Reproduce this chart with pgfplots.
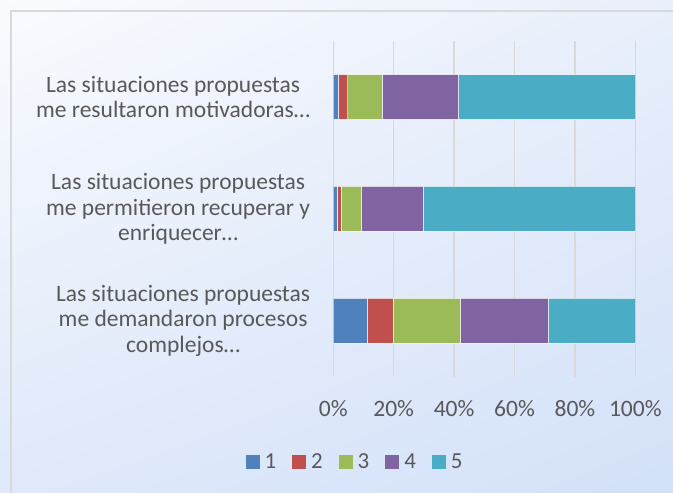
\documentclass[border=0pt]{standalone}
\usepackage{pgfplots}
\pgfplotsset{compat=1.18}
\usetikzlibrary{shadings}
\usepackage{fontspec}
\setmainfont{Carlito}
\definecolor{c1}{HTML}{4F81BD}
\definecolor{c2}{HTML}{C0504D}
\definecolor{c3}{HTML}{9BBB59}
\definecolor{c4}{HTML}{8064A2}
\definecolor{c5}{HTML}{4BACC6}
\definecolor{txt}{HTML}{595959}
\definecolor{gridc}{HTML}{D9D9D9}
\definecolor{bgTL}{HTML}{F9FBFE}
\definecolor{bgTR}{HTML}{E9EFFB}
\definecolor{bgBL}{HTML}{DFE9FA}
\definecolor{bgBR}{HTML}{D3E1F9}
\begin{document}
\begin{tikzpicture}
\useasboundingbox (0bp,0bp) rectangle (673bp,493bp);
\shade[upper left=bgTL, upper right=bgTR, lower left=bgBL, lower right=bgBR] (0bp,0bp) rectangle (673bp,493bp);
\draw[gridc, line width=1.5bp] (11bp,-10bp) rectangle (690bp,482bp);
\begin{axis}[
  at={(333.3bp,116.3bp)}, anchor=south west,
  scale only axis, width=302bp, height=335.7bp,
  xbar stacked, bar width=0.4,
  xmin=0, xmax=100, ymin=-0.5, ymax=2.5,
  xtick={0,20,40,60,80,100},
  xticklabels={0\%,20\%,40\%,60\%,80\%,100\%},
  ytick={0,1,2},
  yticklabels={{Las situaciones propuestas\\me demandaron procesos\\complejos…},
               {Las situaciones propuestas\\me permitieron recuperar y\\enriquecer…},
               {Las situaciones propuestas\\me resultaron motivadoras…}},
  axis line style={draw=none},
  major tick length=0pt,
  xmajorgrids, grid style={gridc, line width=1.3bp},
  tick label style={font=\fontsize{23.6}{25.7}\selectfont, text=txt},
  yticklabel style={align=center, inner sep=0pt, xshift=-23bp},
  xticklabel style={inner sep=0pt, yshift=-24bp},
  legend style={at={(0.0719,-0.254)}, anchor=center, draw=none, fill=none,
    font=\fontsize{23}{24}\selectfont, text=txt,
    /tikz/every even column/.append style={column sep=14bp},
    /tikz/every odd column/.append style={column sep=3bp}},
  legend columns=5,
  legend image code/.code={\fill[#1,draw=none] (0bp,-7bp) rectangle (14bp,7bp);},
  every axis plot/.append style={draw=white, draw opacity=0.6, line width=0.7bp},
]
\addplot[fill=c1] coordinates {(11.3,0) (1.2,1) (1.7,2)};
\addplot[fill=c2] coordinates {(8.5,0) (1.3,1) (3.1,2)};
\addplot[fill=c3] coordinates {(22.3,0) (6.9,1) (11.3,2)};
\addplot[fill=c4] coordinates {(29.1,0) (20.4,1) (25.3,2)};
\addplot[fill=c5] coordinates {(28.8,0) (70.2,1) (58.6,2)};
\legend{1,2,3,4,5}
\end{axis}
\end{tikzpicture}
\end{document}
